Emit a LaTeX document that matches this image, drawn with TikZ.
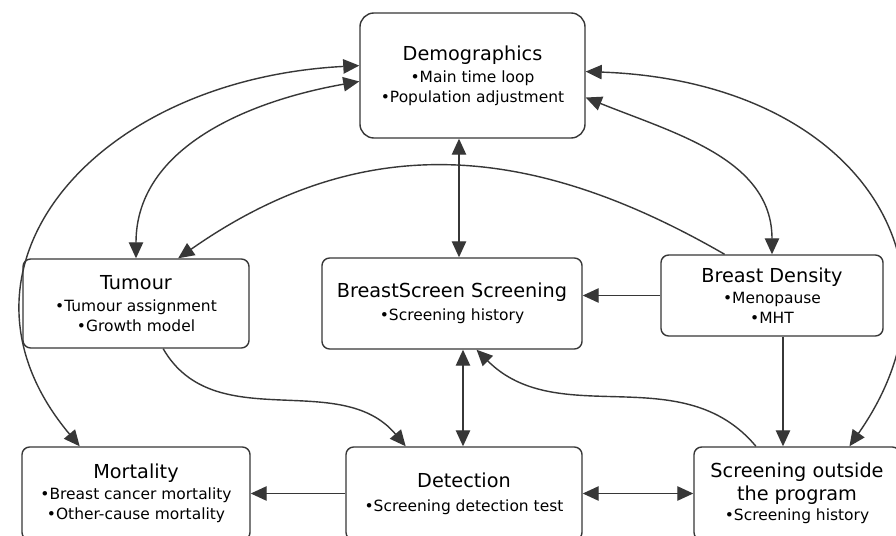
\documentclass[tikz,border=0pt]{standalone}
\usepackage{fontspec}
\setmainfont{DejaVu Sans}
\usetikzlibrary{arrows.meta,positioning,calc}
\definecolor{edgegray}{RGB}{55,55,55}
\newcommand{\hdfont}{\fontsize{13.7}{14.2}\selectfont}
\tikzset{
  box/.style={draw=edgegray, line width=1pt, rounded corners=5.5pt, fill=white,
              inner sep=0pt, align=center, font=\fontsize{11}{14.2}\selectfont},
  one/.style={-{Triangle[length=4mm,width=3.6mm]}, edgegray, line width=1pt},
  two/.style={{Triangle[length=4mm,width=3.6mm]}-{Triangle[length=4mm,width=3.6mm]},
              edgegray, line width=1pt},
}
\begin{document}
\begin{tikzpicture}[x=0.025cm, y=0.025cm]
  \path[use as bounding box, fill=white] (0,0) rectangle (896,535);
  \clip (0,0) rectangle (896,535);
  % modules
  \node[box, rounded corners=10pt, minimum width=5.625cm, minimum height=3.125cm] (demo) at (472.5,459.5)
    {{\hdfont Demographics}\\[1.3pt] •Main time loop\\ •Population adjustment};
  \node[box, minimum width=5.65cm, minimum height=2.225cm] (tumour) at (136,231.5)
    {{\hdfont Tumour}\\[1.3pt] •Tumour assignment\\ •Growth model};
  \node[box, minimum width=6.5cm, minimum height=2.275cm] (bss) at (452,231.5)
    {{\hdfont BreastScreen Screening}\\[2.5pt] •Screening history};
  \node[box, minimum width=5.55cm, minimum height=2.025cm] (density) at (772,239.5)
    {{\hdfont Breast Density}\\[1pt] •Menopause\\ •MHT};
  \node[box, minimum width=5.7cm, minimum height=2.325cm] (mortality) at (136,41.5)
    {{\hdfont Mortality}\\[1pt] •Breast cancer mortality\\ •Other-cause mortality};
  \node[box, minimum width=5.9cm, minimum height=2.325cm] (detection) at (464,41.5)
    {{\hdfont Detection}\\[3pt] •Screening detection test};
  \node[box, minimum width=5.15cm, minimum height=2.325cm] (outside) at (797,41.5)
    {{\hdfont Screening outside}\\[2pt] {\hdfont the program}\\ •Screening history};
  % straight links
  \coordinate (dbx) at ($(demo.south)+(-13.5,0)$);
  \draw[two] (dbx) -- (dbx |- bss.north);
  \coordinate (bdx) at ($(bss.south)+(11,0)$);
  \draw[two] (bdx) -- (bdx |- detection.north);
  \coordinate (dsx) at ($(density.south)+(11,0)$);
  \draw[one] (dsx) -- (dsx |- outside.north);
  \draw[one] (density.west) -- (density.west -| bss.east);
  \draw[one] (detection.west) -- (detection.west -| mortality.east);
  \draw[two] (detection.east) -- (detection.east -| outside.west);
  % curved links
  \draw[two] (demo.183) to[out=190, in=90] (tumour.north);
  \draw[two] (demo.175) to[out=183, in=130, out looseness=1.45, in looseness=1.25] (mortality.140);
  \draw[two] (demo.2) to[out=-2, in=55, out looseness=1.5, in looseness=1.25] (outside.42);
  \draw[two] (demo.349) to[out=-22, in=90] (density.north);
  \draw[one] (density.139) to[out=150, in=35, looseness=1.05] (tumour.47);
  \draw[one] (outside.131) to[out=130, in=-45] (bss.298);
  \draw[one] (tumour.301) to[out=-60, in=130] (detection.141);
\end{tikzpicture}
\end{document}
